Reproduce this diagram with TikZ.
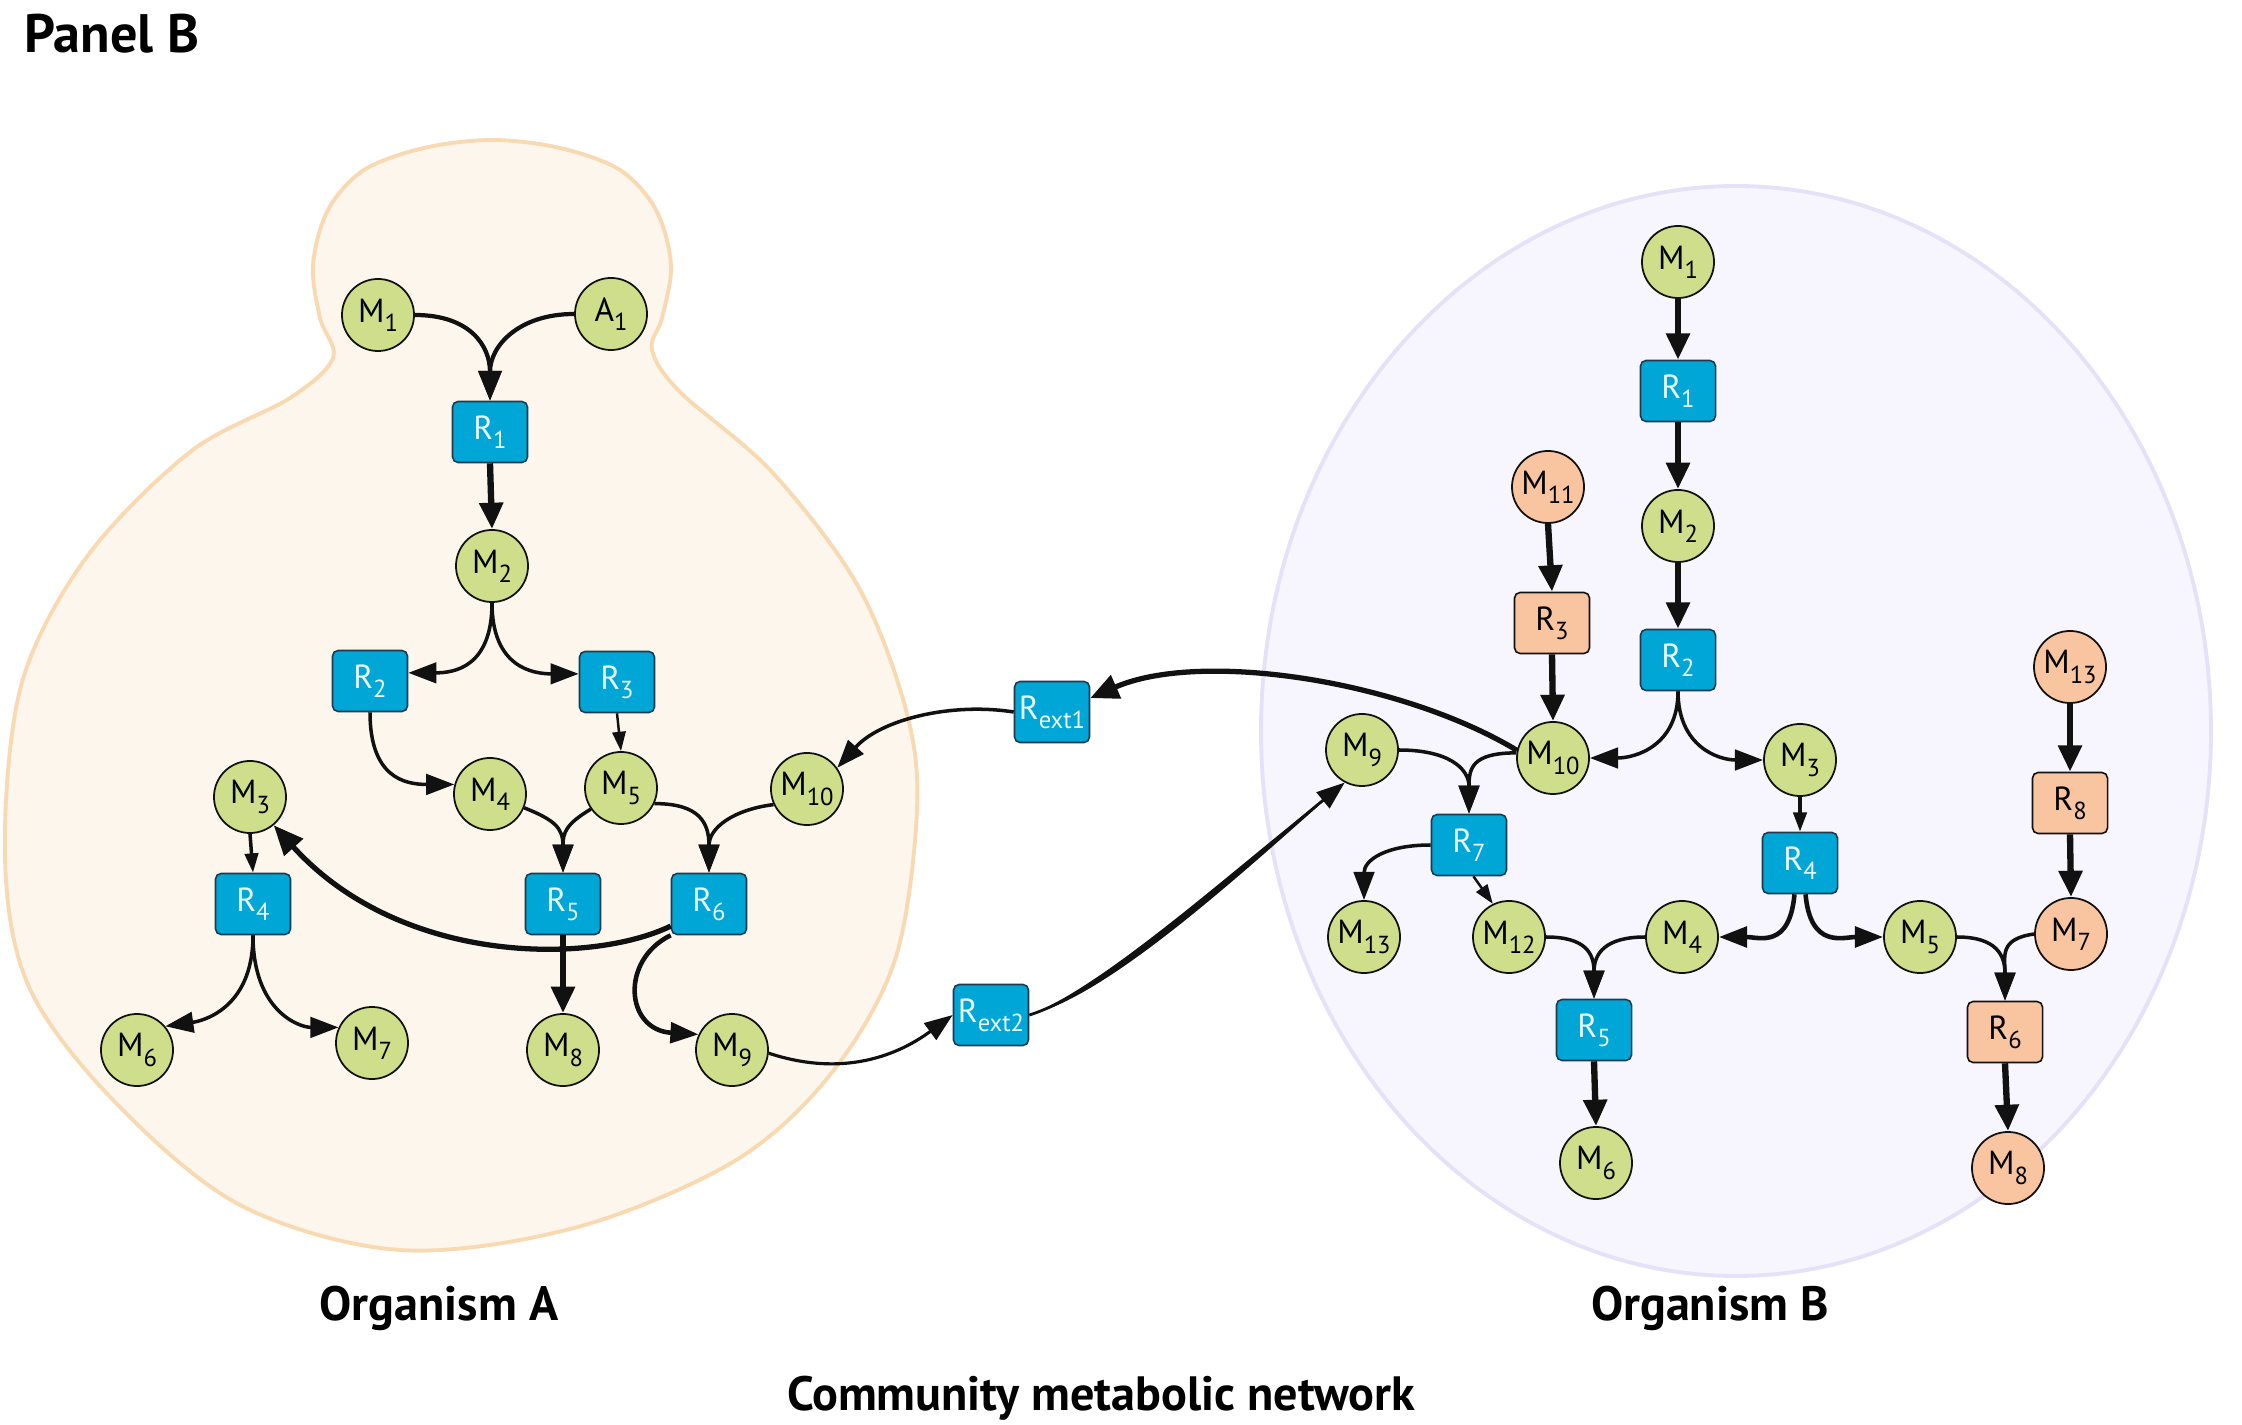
\documentclass[tikz,border=0pt]{standalone}
\usepackage{fontspec}
\setmainfont{PT Sans}
\usetikzlibrary{arrows.meta}
\definecolor{grn}{HTML}{CEDE8B}
\definecolor{blu}{HTML}{00A6D6}
\definecolor{pch}{HTML}{F9C4A0}
\definecolor{blobA}{HTML}{FDF6EC}
\definecolor{blobAedge}{HTML}{F8D9B2}
\definecolor{blobB}{HTML}{F7F5FD}
\definecolor{blobBedge}{HTML}{E6E0F8}
\definecolor{ink}{HTML}{111111}
\definecolor{boxedge}{HTML}{1F3A4F}
\definecolor{btext}{HTML}{EAF8FF}
\newcommand{\mysub}[1]{\raisebox{-0.55ex}{\fontsize{7}{8}\selectfont #1}}
\begin{document}
\begin{tikzpicture}[x=0.01cm,y=-0.01cm,
 met/.style={circle,draw=ink,line width=0.5pt,fill=grn,minimum size=0.72cm,inner sep=0pt,font=\fontsize{9.5}{10}\selectfont},
 metp/.style={met,fill=pch},
 rxn/.style={rectangle,rounded corners=1.6pt,draw=boxedge,line width=0.45pt,fill=blu,minimum width=0.75cm,minimum height=0.61cm,inner sep=0pt,text=btext,font=\fontsize{9.5}{10}\selectfont},
 rxnp/.style={rxn,fill=pch,text=black,draw=ink},
 thk/.style={draw=ink,line width=1.8pt,-{Triangle[length=7.5pt,width=6.5pt]}},
 med/.style={draw=ink,line width=1.0pt,-{Triangle[length=8pt,width=5.8pt]}},
 thn/.style={draw=ink,line width=0.7pt,-{Triangle[length=5.5pt,width=3.8pt]}},
 lbl/.style={font=\bfseries\fontsize{13.7}{15}\selectfont}
]
\useasboundingbox (0,0) rectangle (2242,1425);
% organism outlines
\draw[blobAedge,fill=blobA,line width=1.1pt] plot[smooth cycle,tension=0.55] coordinates {
(492,140) (560,148) (620,170) (656,210) (671,265) (662,318) (652,350) (680,392) (772,472) (858,586) (906,710) (917,810) (895,960) (830,1075) (733,1162) (574,1228) (400,1250) (240,1205) (114,1101) (29,987) (5,858) (21,686) (86,558) (190,452) (290,398) (333,358) (320,318) (313,265) (328,210) (364,170) (424,148)};
\draw[blobBedge,fill=blobB,line width=1.1pt] (1736,731) ellipse [x radius=475,y radius=545];
% labels
\node[anchor=base west,font=\bfseries\fontsize{15.4}{17}\selectfont] (panel) at (12,53) {Panel B};
\node[lbl,anchor=base] (orgA) at (439,1320) {Organism A};
\node[lbl,anchor=base] (orgB) at (1710,1320) {Organism B};
\node[lbl,anchor=base] (comm) at (1101,1410) {Community metabolic network};
% organism A nodes
\node[met] (aM1) at (378,315) {M\mysub{1}};
\node[met] (aA1) at (611,314) {A\mysub{1}};
\node[rxn] (aR1) at (490,432) {R\mysub{1}};
\node[met] (aM2) at (492,566) {M\mysub{2}};
\node[rxn] (aR2) at (370,681) {R\mysub{2}};
\node[rxn] (aR3) at (617,682) {R\mysub{3}};
\node[met] (aM4) at (490,794) {M\mysub{4}};
\node[met] (aM5) at (621,788) {M\mysub{5}};
\node[met] (aM10) at (807,789) {M\mysub{10}};
\node[met] (aM3) at (250,797) {M\mysub{3}};
\node[rxn] (aR4) at (253,904) {R\mysub{4}};
\node[rxn] (aR5) at (563,904) {R\mysub{5}};
\node[rxn] (aR6) at (709,904) {R\mysub{6}};
\node[met] (aM6) at (137,1050) {M\mysub{6}};
\node[met] (aM7) at (372,1043) {M\mysub{7}};
\node[met] (aM8) at (563,1050) {M\mysub{8}};
\node[met] (aM9) at (732,1050) {M\mysub{9}};
% exchange reactions
\node[rxn] (Re1) at (1052,712) {R\mysub{ext1}};
\node[rxn] (Re2) at (991,1015) {R\mysub{ext2}};
% organism B nodes
\node[met] (bM1) at (1678,262) {M\mysub{1}};
\node[rxn] (bR1) at (1678,391) {R\mysub{1}};
\node[metp] (bM11) at (1548,487) {M\mysub{11}};
\node[met] (bM2) at (1678,526) {M\mysub{2}};
\node[rxnp] (bR3) at (1552,623) {R\mysub{3}};
\node[rxn] (bR2) at (1678,660) {R\mysub{2}};
\node[metp] (bM13o) at (2070,667) {M\mysub{13}};
\node[met] (bM9) at (1362,750) {M\mysub{9}};
\node[met] (bM10) at (1553,758) {M\mysub{10}};
\node[met] (bM3) at (1800,760) {M\mysub{3}};
\node[rxnp] (bR8) at (2070,803) {R\mysub{8}};
\node[rxn] (bR7) at (1469,845) {R\mysub{7}};
\node[rxn] (bR4) at (1800,863) {R\mysub{4}};
\node[met] (bM13g) at (1364,937) {M\mysub{13}};
\node[met] (bM12) at (1509,937) {M\mysub{12}};
\node[met] (bM4) at (1682,937) {M\mysub{4}};
\node[met] (bM5) at (1920,937) {M\mysub{5}};
\node[metp] (bM7) at (2071,934) {M\mysub{7}};
\node[rxn] (bR5) at (1594,1030) {R\mysub{5}};
\node[rxnp] (bR6) at (2005,1032) {R\mysub{6}};
\node[met] (bM6) at (1596,1163) {M\mysub{6}};
\node[metp] (bM8) at (2008,1168) {M\mysub{8}};
% organism A edges
\draw[med,line width=1.2pt,-{Triangle[length=8.5pt,width=6.5pt]}] (aM1.east) .. controls +(55,0) and +(0,-55) .. (aR1.north);
\draw[med,line width=1.2pt,-{Triangle[length=8.5pt,width=6.5pt]}] (aA1.west) .. controls +(-55,0) and +(0,-55) .. (aR1.north);
\draw[thk] (aR1.south) -- (aM2.north);
\draw[med] (aM2.south) .. controls +(0,65) and +(45,0) .. (aR2.12);
\draw[med] (aM2.south) .. controls +(0,65) and +(-45,0) .. (aR3.168);
\draw[med] (aR2.south) .. controls +(0,65) and +(-50,0) .. (aM4.165);
\draw[thn] (aR3.south) -- (aM5.north);
\draw[med] (aM4.-22) .. controls +(30,12) and +(0,-45) .. (aR5.north);
\draw[med] (aM5.-145) .. controls +(-25,15) and +(0,-40) .. (aR5.north);
\draw[med] (aM5.-25) .. controls +(45,0) and +(0,-50) .. (aR6.north);
\draw[med] (aM10.-155) .. controls +(-40,5) and +(0,-45) .. (aR6.north);
\draw[thn,line width=1pt] (aM3.south) -- (aR4.north);
\draw[med] (aR4.south) .. controls +(0,75) and +(35,-5) .. (aM6.40);
\draw[med] (aR4.south) .. controls +(0,75) and +(-40,0) .. (aM7.155);
\draw[thk] (aR5.south) -- (aM8.north);
\draw[med,line width=1.5pt,-{Triangle[length=8.5pt,width=7pt]}] (aR6.210) .. controls (590,965) and (400,965) .. (aM3.-50);
\draw[med,line width=1.3pt] (aR6.south west) .. controls (620,960) and (625,1030) .. (aM9.155);
\draw[med,line width=0.9pt] (aM9.-5) .. controls (850,1080) and (905,1050) .. (Re2.west);
\draw[med] (Re1.west) .. controls (950,702) and (880,720) .. (aM10.35);
% between organisms
\fill[ink] (Re2.east) .. controls (1110,984) and (1250,854) .. (bM9.-118) .. controls (1250,866) and (1110,996) .. (Re2.east) -- cycle;
\draw[med,line width=0.8pt] (Re2.east) .. controls (1110,990) and (1250,860) .. (bM9.-118);
\draw[med,line width=1.5pt,-{Triangle[length=8pt,width=7pt]}] (bM10.168) .. controls (1400,680) and (1200,650) .. (Re1.20);
% organism B edges
\draw[thk] (bM1.south) -- (bR1.north);
\draw[thk] (bR1.south) -- (bM2.north);
\draw[thk] (bM2.south) -- (bR2.north);
\draw[thk] (bM11.south) -- (bR3.north);
\draw[thk] (bR3.south) -- (bM10.north);
\draw[med] (bR2.south) .. controls +(0,55) and +(45,0) .. (bM10.east);
\draw[med] (bR2.south) .. controls +(0,55) and +(-45,0) .. (bM3.west);
\draw[med] (bM9.east) .. controls +(50,0) and +(0,-45) .. (bR7.north);
\draw[med] (bM10.172) .. controls +(-45,0) and +(0,-45) .. (bR7.north);
\draw[med] (bR7.west) .. controls +(-45,0) and +(0,-40) .. (bM13g.north);
\draw[thn] (bR7.-82) -- (bM12.116);
\draw[thn,line width=1pt] (bM3.south) -- (bR4.north);
\draw[med,line width=1.3pt] (bR4.-100) .. controls +(-5,55) and +(40,0) .. (bM4.east);
\draw[med,line width=1.3pt] (bR4.-80) .. controls +(5,55) and +(-40,0) .. (bM5.west);
\draw[med] (bM12.east) .. controls +(40,0) and +(0,-45) .. (bR5.north);
\draw[med] (bM4.west) .. controls +(-40,0) and +(0,-45) .. (bR5.north);
\draw[thk] (bR5.south) -- (bM6.north);
\draw[thk] (bM13o.south) -- (bR8.north);
\draw[thk] (bR8.south) -- (bM7.north);
\draw[med] (bM5.east) .. controls +(40,0) and +(0,-45) .. (bR6.north);
\draw[med] (bM7.west) .. controls +(-35,5) and +(0,-45) .. (bR6.north);
\draw[thk] (bR6.south) -- (bM8.north);
\end{tikzpicture}
\end{document}
